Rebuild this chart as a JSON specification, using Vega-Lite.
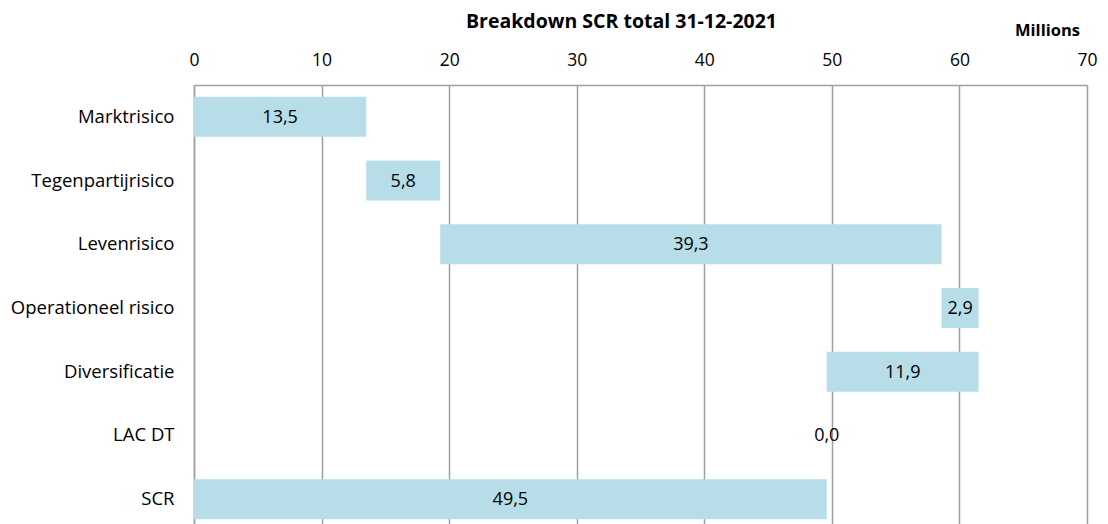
{
  "$schema": "https://vega.github.io/schema/vega-lite/v6.json",
  "autosize": {"type": "none"},
  "padding": {"left": 194, "top": 85, "right": 21, "bottom": 0},
  "width": 893,
  "height": 446,
  "background": "white",
  "config": {
    "view": {"stroke": null},
    "font": "Open Sans"
  },
  "title": {
    "text": "Breakdown SCR total 31-12-2021",
    "font": "Open Sans",
    "fontSize": 19.5,
    "fontWeight": "bold",
    "color": "#000000",
    "anchor": "middle",
    "dx": -19,
    "offset": -10
  },
  "data": {
    "values": [
      {"category": "Marktrisico", "start": 0, "end": 13.5, "label": "13,5"},
      {"category": "Tegenpartijrisico", "start": 13.5, "end": 19.3, "label": "5,8"},
      {"category": "Levenrisico", "start": 19.3, "end": 58.6, "label": "39,3"},
      {"category": "Operationeel risico", "start": 58.6, "end": 61.5, "label": "2,9"},
      {"category": "Diversificatie", "start": 49.6, "end": 61.5, "label": "11,9"},
      {"category": "LAC DT", "start": 49.6, "end": 49.6, "label": "0,0"},
      {"category": "SCR", "start": 0, "end": 49.6, "label": "49,5"}
    ]
  },
  "encoding": {
    "y": {
      "field": "category",
      "type": "nominal",
      "sort": null,
      "scale": {"paddingInner": 0.372, "paddingOuter": 0.186},
      "axis": {
        "title": null,
        "ticks": false,
        "labelPadding": 20,
        "labelFontSize": 18.5,
        "labelFont": "Open Sans",
        "labelColor": "#000000",
        "domainColor": "#a0a0a0",
        "domainWidth": 1.5
      }
    }
  },
  "layer": [
    {
      "mark": {"type": "bar", "color": "#b7dde8", "cornerRadius": 0},
      "encoding": {
        "x": {
          "field": "start",
          "type": "quantitative",
          "scale": {"domain": [0, 70], "nice": false},
          "axis": {
            "orient": "top",
            "values": [0, 10, 20, 30, 40, 50, 60, 70],
            "grid": true,
            "gridColor": "#a0a0a0",
            "gridWidth": 1.5,
            "gridOpacity": 1,
            "ticks": false,
            "tickSize": 0,
            "labelPadding": 16,
            "labelFontSize": 17.5,
            "labelFont": "Open Sans",
            "labelColor": "#000000",
            "labelFlush": false,
            "domainColor": "#a0a0a0",
            "domainWidth": 1.5,
            "title": "Millions",
            "titleFont": "Open Sans",
            "titleFontSize": 16.5,
            "titleFontWeight": "bold",
            "titleColor": "#000000",
            "titleX": 853,
            "titleY": -50,
            "titleAlign": "center",
            "titleBaseline": "alphabetic"
          }
        },
        "x2": {"field": "end"}
      }
    },
    {
      "transform": [{"calculate": "(datum.start + datum.end) / 2", "as": "mid"}],
      "mark": {"type": "text", "fontSize": 18, "font": "Open Sans", "color": "#000000", "baseline": "middle", "dy": 1},
      "encoding": {
        "x": {"field": "mid", "type": "quantitative"},
        "text": {"field": "label"}
      }
    }
  ]
}
